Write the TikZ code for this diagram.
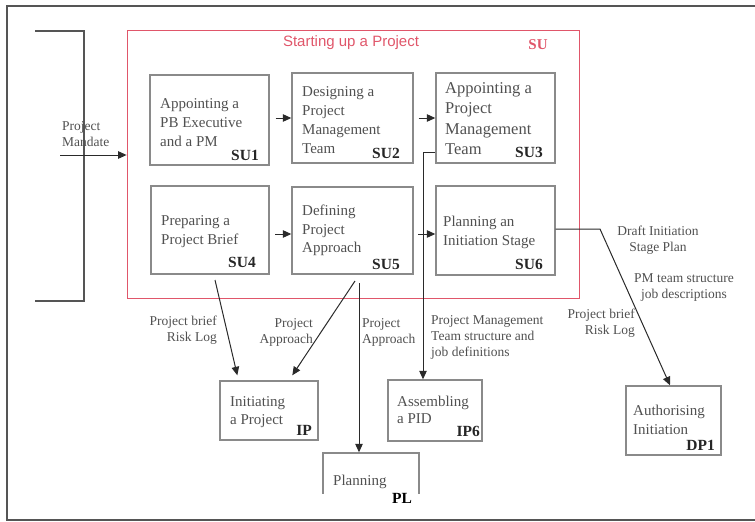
\documentclass[tikz,border=0pt]{standalone}
\usepackage{fontspec}
\setmainfont{Liberation Serif}
\newfontfamily\headfont{Liberation Sans}
\usetikzlibrary{arrows.meta}
\definecolor{boxline}{HTML}{8A8A8A}
\definecolor{sured}{HTML}{E0566A}
\definecolor{txtgrey}{HTML}{505050}
\definecolor{wirecol}{HTML}{2A2A2A}
\definecolor{framecol}{HTML}{555555}
\begin{document}
\begin{tikzpicture}[x=1pt,y=-1pt,
  procbox/.style={draw=boxline, line width=1.4pt, inner sep=0pt},
  boxtext/.style={anchor=north west, inner sep=0pt, align=left, text=txtgrey,
    font=\fontsize{15}{18.5}\selectfont},
  idtag/.style={anchor=east, inner sep=0pt, text=black!85,
    font=\fontsize{15.5}{18}\selectfont\bfseries},
  flowlabel/.style={inner sep=0pt, text=txtgrey, font=\fontsize{13.5}{16}\selectfont},
  wire/.style={draw=wirecol, line width=1pt},
  arr/.style={wire, -{Triangle[length=8.5pt,width=7.5pt]}},
]
\useasboundingbox (0,0) rectangle (755,522);

% page frame
\draw[framecol, line width=1.3pt] (755,6) -- (7,6) -- (7,520) -- (755,520);

% process group
\node[draw=sured, line width=0.8pt, minimum width=452, minimum height=268, inner sep=0pt] (su) at (353,164) {};
\node[inner sep=0pt, text=sured, font=\headfont\fontsize{15}{18}\selectfont] (sutitle) at (351,43) {Starting up a Project};
\node[inner sep=0pt, text=sured, font=\fontsize{15}{18}\selectfont\bfseries] (suid) at (538,45) {SU};

% boxes
\node[procbox, minimum width=119, minimum height=90] (su1) at (209.5,120) {};
\node[procbox, minimum width=121, minimum height=90] (su2) at (352.5,118) {};
\node[procbox, minimum width=119, minimum height=90] (su3) at (495.5,118) {};
\node[procbox, minimum width=118, minimum height=88] (su4) at (210,230) {};
\node[procbox, minimum width=121, minimum height=87] (su5) at (352.5,230.5) {};
\node[procbox, minimum width=119, minimum height=89] (su6) at (495.5,230.5) {};
\node[procbox, minimum width=98, minimum height=59] (ip) at (269,410.5) {};
\node[procbox, minimum width=94, minimum height=61] (ip6) at (435,410.5) {};
\node[procbox, minimum width=95, minimum height=69] (dp1) at (673.5,420.5) {};

% box texts
\node[boxtext, font=\fontsize{15}{19}\selectfont] (su1t) at (160,98) {Appointing a\\PB Executive\\and a PM};
\node[boxtext, font=\fontsize{15}{19}\selectfont] (su2t) at (302,86) {Designing a\\Project\\Management\\Team};
\node[boxtext, font=\fontsize{16.5}{20.5}\selectfont] (su3t) at (445,82) {Appointing a\\Project\\Management\\Team};
\node[boxtext, font=\fontsize{15}{19}\selectfont] (su4t) at (161,215) {Preparing a\\Project Brief};
\node[boxtext] (su5t) at (302,205) {Defining\\Project\\Approach};
\node[boxtext] (su6t) at (443,216) {Planning an\\Initiation Stage};
\node[boxtext] (ipt) at (230,396) {Initiating\\a Project};
\node[boxtext, font=\fontsize{15}{17}\selectfont] (ip6t) at (397,396) {Assembling\\a PID};
\node[boxtext] (dp1t) at (633,405) {Authorising\\Initiation};

% identifiers
\node[idtag] (su1id) at (259,155) {SU1};
\node[idtag] (su2id) at (400,153) {SU2};
\node[idtag] (su3id) at (543,152) {SU3};
\node[idtag] (su4id) at (256,262) {SU4};
\node[idtag] (su5id) at (400,264) {SU5};
\node[idtag] (su6id) at (543,264) {SU6};
\node[idtag] (ipid) at (312,430) {IP};
\node[idtag] (ip6id) at (480,431) {IP6};
\node[idtag] (dp1id) at (715,445) {DP1};

% planning box, cut off at the lower edge
\begin{scope}
  \clip (0,0) rectangle (755,493);
  \node[procbox, minimum width=96, minimum height=70] (pl) at (371,488) {};
  \node[boxtext] (plt) at (333,475) {Planning};
\end{scope}
\node[inner sep=0pt, text=black, font=\fontsize{15.5}{18}\selectfont\bfseries] (plid) at (402,498) {PL};

% mandate bracket
\coordinate (brtl) at (35,31);
\coordinate (brtr) at (84,31);
\coordinate (brbr) at (84,301);
\coordinate (brbl) at (35,301);
\draw[draw=framecol, line width=1.4pt] (brtl) -- (brtr) -- (brbr) -- (brbl);
\coordinate (mand) at (60,155);
\draw[arr] (mand) -- (su.west |- mand);
\node[flowlabel, anchor=north west, align=left] (mandl) at (62,121) {Project\\Mandate};

% arrows inside the group
\draw[arr] ([xshift=6pt]su1.east |- su2.west) -- (su2.west);
\draw[arr] ([xshift=5pt]su2.east) -- (su3.west);
\coordinate (a45) at (275,234);
\draw[arr] (a45) -- (su5.west |- a45);
\coordinate (a56) at (418,234);
\draw[arr] (a56) -- (su6.west |- a56);

% SU3 -> IP6
\coordinate (b3) at (423,152);
\draw[arr] (su3.west |- b3) -- (b3) -- (b3 |- ip6.north);
\node[flowlabel, anchor=north west, align=left] (pmtl) at (431,315) {Project Management\\Team structure and\\job definitions};

% SU6 -> DP1
\coordinate (k6) at (600,229);
\draw[arr] (su6.east |- k6) -- (k6) -- ([xshift=-3.5pt]dp1.north);
\node[flowlabel, anchor=north, align=center] (draftl) at (658,226) {Draft Initiation\\Stage Plan};
\node[flowlabel, anchor=north, align=center] (pmteaml) at (684,273) {PM team structure\\job descriptions};
\node[flowlabel, anchor=north east, align=right] (brief6l) at (635,309) {Project brief\\Risk Log};

% SU4 -> IP
\coordinate (s4) at (215,280);
\draw[arr] (s4) -- ([xshift=18pt,yshift=5pt]ip.north west);
\node[flowlabel, anchor=north east, align=right] (brief4l) at (217,316) {Project brief\\Risk Log};

% SU5 -> IP and SU5 -> PL
\coordinate (s5a) at (355,281);
\draw[arr] (s5a) -- ([xshift=73pt,yshift=5pt]ip.north west);
\node[flowlabel, anchor=north east, align=right] (appr1l) at (313,318) {Project\\Approach};
\coordinate (s5b) at (359,283);
\draw[arr] (s5b) -- (s5b |- pl.north);
\node[flowlabel, anchor=north west, align=left] (appr2l) at (362,318) {Project\\Approach};
\end{tikzpicture}
\end{document}
